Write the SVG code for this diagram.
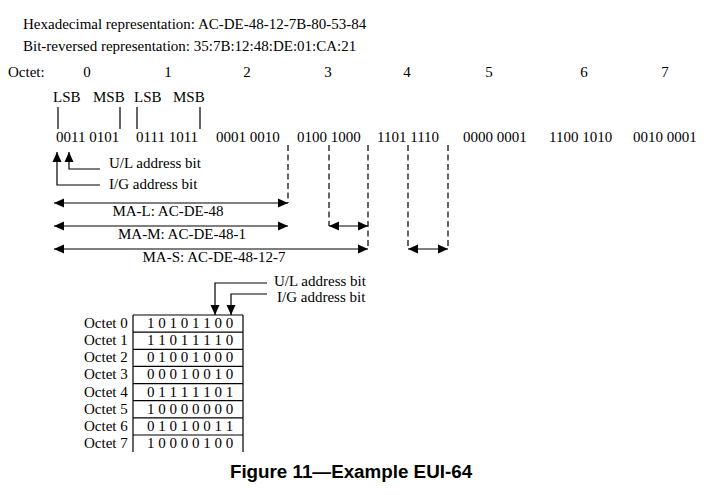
<svg xmlns="http://www.w3.org/2000/svg" width="717" height="495" viewBox="0 0 717 495">
<style>
text{font-family:"Liberation Serif","Times New Roman",serif;font-size:15px;fill:#000}
.c{text-anchor:middle}
.title{font-family:"Liberation Sans",Arial,sans-serif;font-weight:bold;font-size:18.8px;text-anchor:middle}
.ln{stroke:#000;stroke-width:1.2;fill:none}
.dash{stroke:#000;stroke-width:1.2;fill:none;stroke-dasharray:6 3.5}
.arr{stroke:#000;stroke-width:1.2;fill:none;marker-end:url(#ah)}
.darr{stroke:#000;stroke-width:1.2;fill:none;marker-end:url(#ah);marker-start:url(#ah)}
</style>
<defs>
<marker id="ah" markerUnits="userSpaceOnUse" markerWidth="10" markerHeight="10" refX="10" refY="5" orient="auto-start-reverse" viewBox="0 0 10 10">
<path d="M0,0.5 L10,5 L0,9.5 z" fill="#000"/>
</marker>
</defs>
<rect width="717" height="495" fill="#fff"/>

<g id="header">
<text x="23" y="29">Hexadecimal representation: AC-DE-48-12-7B-80-53-84</text>
<text x="23" y="51">Bit-reversed representation: 35:7B:12:48:DE:01:CA:21</text>
</g>

<g id="octet-row">
<text x="8" y="77">Octet:</text>
<text class="c" x="87" y="77">0</text>
<text class="c" x="168" y="77">1</text>
<text class="c" x="247" y="77">2</text>
<text class="c" x="328" y="77">3</text>
<text class="c" x="407" y="77">4</text>
<text class="c" x="489" y="77">5</text>
<text class="c" x="584" y="77">6</text>
<text class="c" x="665" y="77">7</text>
</g>

<g id="lsb-msb">
<text x="53" y="102">LSB</text>
<text x="93" y="102">MSB</text>
<text x="134" y="102">LSB</text>
<text x="173" y="102">MSB</text>
</g>

<g id="bit-row">
<text x="56" y="142">0011 0101</text>
<text x="136" y="142">0111 1011</text>
<text x="216" y="142">0001 0010</text>
<text x="297" y="142">0100 1000</text>
<text x="377" y="142">1101 1110</text>
<text x="463" y="142">0000 0001</text>
<text x="549" y="142">1100 1010</text>
<text x="633" y="142">0010 0001</text>
</g>

<g id="bit-labels">
<text x="109" y="168">U/L address bit</text>
<text x="109" y="189">I/G address bit</text>
</g>

<g id="range-labels">
<text class="c" x="168" y="216">MA-L: AC-DE-48</text>
<text class="c" x="182" y="239">MA-M: AC-DE-48-1</text>
<text class="c" x="214" y="262">MA-S: AC-DE-48-12-7</text>
</g>

<g id="lower-labels">
<text x="274" y="286">U/L address bit</text>
<text x="277" y="302">I/G address bit</text>
</g>

<g id="octet-table">
<path class="ln" d="M133,315 H243 M133,315 V452 M243,315 V452 M133,332.1 H243 M133,349.3 H243 M133,366.4 H243 M133,383.6 H243 M133,400.7 H243 M133,417.8 H243 M133,435 H243"/>
<text x="84" y="328">Octet 0</text>
<text x="84" y="345.1">Octet 1</text>
<text x="84" y="362.3">Octet 2</text>
<text x="84" y="379.4">Octet 3</text>
<text x="84" y="396.6">Octet 4</text>
<text x="84" y="413.7">Octet 5</text>
<text x="84" y="430.8">Octet 6</text>
<text x="84" y="448">Octet 7</text>
<text x="147" y="328">1 0 1 0 1 1 0 0</text>
<text x="147" y="345.1">1 1 0 1 1 1 1 0</text>
<text x="147" y="362.3">0 1 0 0 1 0 0 0</text>
<text x="147" y="379.4">0 0 0 1 0 0 1 0</text>
<text x="147" y="396.6">0 1 1 1 1 1 0 1</text>
<text x="147" y="413.7">1 0 0 0 0 0 0 0</text>
<text x="147" y="430.8">0 1 0 1 0 0 1 1</text>
<text x="147" y="448">1 0 0 0 0 1 0 0</text>
</g>

<g id="title">
<text class="title" x="351" y="478">Figure 11—Example EUI-64</text>
</g>

<g id="connectors">
<path class="ln" d="M58,107 V129 M120,107 V129 M137,107 V129 M200,107 V129"/>
<path class="dash" d="M288,145 V203 M329,145 V226 M368,145 V249 M408,145 V249 M448,145 V249"/>
<path class="arr" d="M100,169 H69 V152"/>
<path class="arr" d="M100,185 H57 V152"/>
<path class="darr" d="M54,203 H288"/>
<path class="darr" d="M54,226 H288"/>
<path class="darr" d="M329,226 H368"/>
<path class="darr" d="M54,249 H368"/>
<path class="darr" d="M408,249 H448"/>
<path class="arr" d="M267,283 H215 V315"/>
<path class="arr" d="M267,294 H231 V315"/>
</g>
</svg>
